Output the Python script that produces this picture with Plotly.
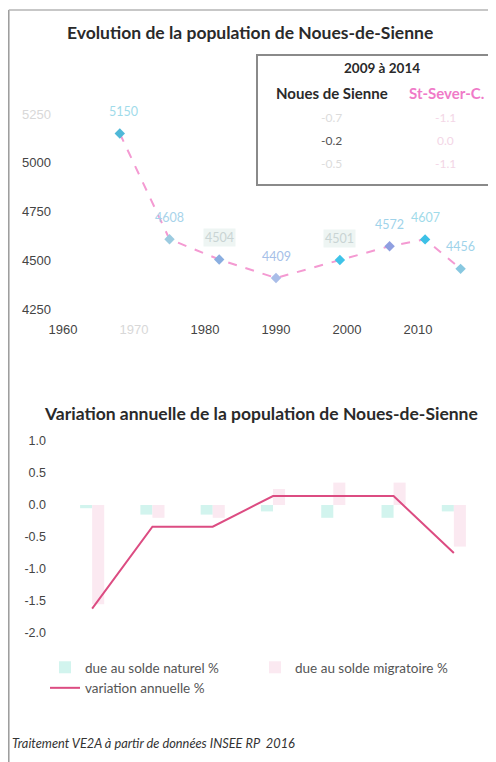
import plotly.graph_objects as go

# ---------------- data ----------------
pop_years = [1968, 1975, 1982, 1990, 1999, 2006, 2011, 2016]
pop_values = [5150, 4608, 4504, 4409, 4501, 4572, 4607, 4456]

var_categories = ["1975", "1982", "1990", "1999", "2006", "2011", "2016"]
var_natural = [-0.05, -0.15, -0.15, -0.10, -0.20, -0.20, -0.10]
var_migratory = [-1.55, -0.20, -0.20, 0.25, 0.35, 0.35, -0.65]
var_annual = [-1.62, -0.34, -0.34, 0.14, 0.14, 0.14, -0.75]

top_yticks = [4250, 4500, 4750, 5000, 5250]
top_xticks = [1960, 1970, 1980, 1990, 2000, 2010]
bot_yticks = [1.0, 0.5, 0.0, -0.5, -1.0, -1.5, -2.0]

table_title = "2009 à 2014"
table_cols = ["Noues de Sienne", "St-Sever-C."]
table_noues = ["-0.7", "-0.2", "-0.5"]
table_stsever = ["-1.1", "0.0", "-1.1"]

# page has an 8px body margin: the figure sits at (8, 8)
OFF = 8
W, H = 496 - OFF, 762 - OFF
def px(x):
    return (x - OFF) / W
def py(y):
    return 1 - (y - OFF) / H

FONT = "Lato"

fig = go.Figure()

# ---------- top chart ----------
marker_cols = ["#4fb8d8", "#9ccbe0", "#8aaee0", "#a9bde8", "#3fc3e8", "#8f9fe0", "#3cc0e6", "#88c8e0"]
fig.add_trace(go.Scatter(
    x=pop_years, y=pop_values, mode="lines+markers",
    line=dict(color="#f49ad2", width=2, dash="dash"),
    marker=dict(symbol="diamond", size=8, color=marker_cols),
    xaxis="x", yaxis="y", showlegend=False, hoverinfo="x+y"))

label_cols = ["#9fdbea", "#a7d3ea", "#c9d4d4", "#a6bfe8", "#c9d4d4", "#9fd3ea", "#9fdbea", "#9fd3ea"]
label_bg = [None, None, "#eef5f3", None, "#eef5f3", None, None, None]
for i, (yr, v) in enumerate(zip(pop_years, pop_values)):
    fig.add_annotation(x=yr, y=v, xref="x", yref="y", text=str(v), showarrow=False,
                       xanchor="center", yanchor="middle",
                       yshift=22, xshift=(4 if i == 0 else 0),
                       font=dict(family=FONT, size=12.5, color=label_cols[i]),
                       bgcolor=label_bg[i])

top_ytext = [("<span style='color:#d8d8d8'>%d</span>" % t) if t == 5250 else str(t) for t in top_yticks]
top_xtext = [("<span style='color:#d8d8d8'>%d</span>" % t) if t == 1970 else str(t) for t in top_xticks]

# ---------- bottom chart ----------
fig.add_trace(go.Bar(
    x=var_categories, y=var_natural, name="due au solde naturel %",
    marker=dict(color="#d2f4ee", line=dict(width=0)),
    xaxis="x2", yaxis="y2"))
fig.add_trace(go.Bar(
    x=var_categories, y=var_migratory, name="due au solde migratoire %",
    marker=dict(color="#fbe9f1", line=dict(width=0)),
    xaxis="x2", yaxis="y2"))
fig.add_trace(go.Scatter(
    x=var_categories, y=var_annual, name="variation annuelle %", mode="lines",
    line=dict(color="#dc4c82", width=2),
    xaxis="x2", yaxis="y2"))

label_y = [0.31, 0.42, 0.42, 0.84, 0.84, 0.47, 0.39]
for c, ly in zip(var_categories, label_y):
    fig.add_annotation(x=c, y=ly, xref="x2", yref="y2", text=c, showarrow=False,
                       xanchor="center", yanchor="middle",
                       xshift=(8 if c == "2016" else -3),
                       font=dict(family=FONT, size=12.5, color="#444"))

def ptext(x, y, text, size, color, xanchor="center"):
    fig.add_annotation(x=px(x), y=py(y), xref="paper", yref="paper", text=text,
                       showarrow=False, xanchor=xanchor, yanchor="middle",
                       font=dict(family=FONT, size=size, color=color))

# ---------- titles ----------
ptext(250, 33, "<b>Evolution de la population de Noues-de-Sienne</b>", 17.5, "#2a2a2a")
ptext(261, 413, "<b>Variation annuelle de la population de Noues-de-Sienne</b>", 17.5, "#2a2a2a")

# ---------- table box ----------
fig.add_shape(type="rect", xref="paper", yref="paper",
              x0=px(257), x1=px(495), y0=py(185), y1=py(55),
              line=dict(color="#8a8a8a", width=2), fillcolor="rgba(255,255,255,0)")
ptext(382, 68, "<b>" + table_title + "</b>", 13.5, "#2a2a2a")
ptext(332, 93, "<b>" + table_cols[0] + "</b>", 15, "#2a2a2a")
ptext(446, 93, "<b>" + table_cols[1] + "</b>", 15, "#f07ac8")
row_y = [117, 140, 163]
noues_cols = ["#dcdcdc", "#555555", "#dcdcdc"]
for i, ry in enumerate(row_y):
    ptext(331, ry, table_noues[i], 12, noues_cols[i])
    ptext(445, ry, table_stsever[i], 12, "#f3d6e6")

# ---------- frame lines (scan border) ----------
fig.add_shape(type="line", xref="paper", yref="paper", x0=px(8.8), x1=px(8.8), y0=py(762), y1=py(10),
              line=dict(color="#9a9a9a", width=1.5))
fig.add_shape(type="line", xref="paper", yref="paper", x0=px(8.8), x1=px(496), y0=py(10), y1=py(10),
              line=dict(color="#b5b5b5", width=1.5))

# ---------- footnote ----------
ptext(10, 743, "<i>Traitement VE2A à partir de données INSEE RP  2016</i>", 12.8, "#333", xanchor="left")

top_font = dict(family="Liberation Sans", size=13, color="#444")
bot_font = dict(family="Liberation Sans", size=12.5, color="#444")
fig.update_layout(
    width=W, height=H, margin=dict(l=0, r=0, t=0, b=0, autoexpand=False),
    paper_bgcolor="white", plot_bgcolor="white",
    font=dict(family=FONT),
    barmode="group", bargap=0.6, bargroupgap=0,
    xaxis=dict(domain=[px(63), px(489)], anchor="y", range=[1960, 2020], automargin=False,
               tickvals=top_xticks, ticktext=top_xtext, showgrid=False, zeroline=False,
               showline=False, ticks="", tickfont=top_font, ticklabelstandoff=11),
    yaxis=dict(domain=[py(309), py(114)], anchor="x", range=[4250, 5250], automargin=False,
               tickvals=top_yticks, ticktext=top_ytext, showgrid=False, zeroline=False,
               showline=False, ticks="", tickfont=top_font, ticklabelstandoff=11),
    xaxis2=dict(domain=[px(62), px(484)], anchor="y2", range=[-0.5, 6.5], automargin=False,
                showticklabels=False, showgrid=False, zeroline=False, showline=False, ticks=""),
    yaxis2=dict(domain=[py(633), py(441)], anchor="x2", range=[-2.0, 1.0], automargin=False,
                tickvals=bot_yticks, ticktext=["%.1f" % v for v in bot_yticks],
                showgrid=False, zeroline=False, showline=False, ticks="",
                tickfont=bot_font, ticklabelstandoff=15),
    legend=dict(orientation="h", x=px(45), y=py(652), xanchor="left", yanchor="top",
                entrywidth=165, entrywidthmode="pixels", traceorder="normal",
                font=dict(family=FONT, size=13.5, color="#555"), itemwidth=30,
                bgcolor="rgba(0,0,0,0)"),
)

fig.write_html("out.html")
